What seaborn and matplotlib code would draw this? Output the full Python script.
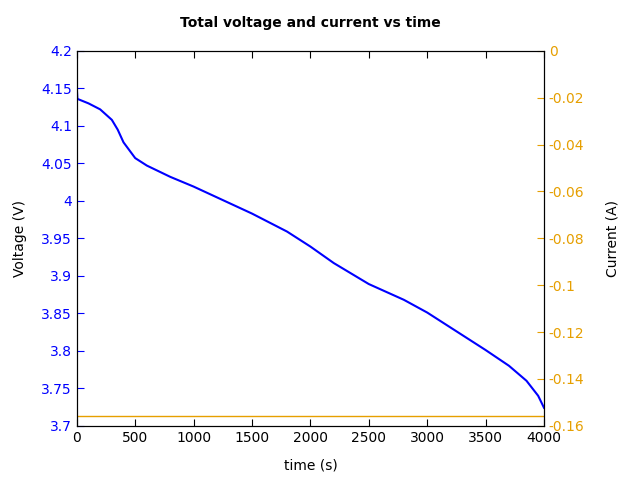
import matplotlib
matplotlib.use("Agg")
import matplotlib.pyplot as plt
import seaborn as sns
import pandas as pd

time_s = [0, 5, 100, 200, 300, 350, 400, 500, 600, 800, 1000, 1500, 1800, 2000, 2200, 2500, 2800, 3000, 3200, 3500, 3700, 3850, 3950, 4000]
voltage = [4.151, 4.136, 4.130, 4.122, 4.108, 4.095, 4.078, 4.057, 4.047, 4.032, 4.019, 3.983, 3.959, 3.939, 3.917, 3.889, 3.868, 3.851, 3.831, 3.801, 3.780, 3.760, 3.740, 3.724]
current_t = [0, 4000]
current = [-0.156, -0.156]

df = pd.DataFrame({"t": time_s, "v": voltage})
dfc = pd.DataFrame({"t": current_t, "i": current})

fig, ax = plt.subplots(figsize=(6.4, 4.8), dpi=100)
fig.subplots_adjust(left=0.12, right=0.85, top=0.894, bottom=0.113)
ax2 = ax.twinx()
sns.lineplot(data=dfc, x="t", y="i", ax=ax2, color="#e69f00", linewidth=1)
sns.lineplot(data=df, x="t", y="v", ax=ax, color="blue", linewidth=1.5)
ax.set_zorder(ax2.get_zorder() + 1)
ax.patch.set_visible(False)

ax.set_xlim(0, 4000)
ax.set_ylim(3.7, 4.2)
ax2.set_ylim(-0.16, 0)
ax.set_xticks(range(0, 4001, 500))
ax.set_yticks([3.7 + 0.05 * i for i in range(11)])
ax.set_yticklabels(["3.7", "3.75", "3.8", "3.85", "3.9", "3.95", "4", "4.05", "4.1", "4.15", "4.2"])
ax2.set_yticks([-0.16, -0.14, -0.12, -0.1, -0.08, -0.06, -0.04, -0.02, 0])
ax2.set_yticklabels(["-0.16", "-0.14", "-0.12", "-0.1", "-0.08", "-0.06", "-0.04", "-0.02", "0"])
ax.tick_params(axis="x", direction="in", top=True, length=5, labelsize=10)
ax.tick_params(axis="y", direction="in", length=5, colors="blue", labelsize=10)
ax2.tick_params(axis="y", direction="in", length=5, colors="#e69f00", labelsize=10)
for a in (ax, ax2):
    for s in a.spines.values():
        s.set_color("black")
ax.set_xlabel("time (s)", labelpad=10)
ax.set_ylabel("Voltage (V)", labelpad=10)
ax2.set_ylabel("Current (A)", labelpad=15)
ax.set_title("Total voltage and current vs time", fontsize=10, fontweight="bold", pad=17)
fig.savefig("out.png", dpi=100)
